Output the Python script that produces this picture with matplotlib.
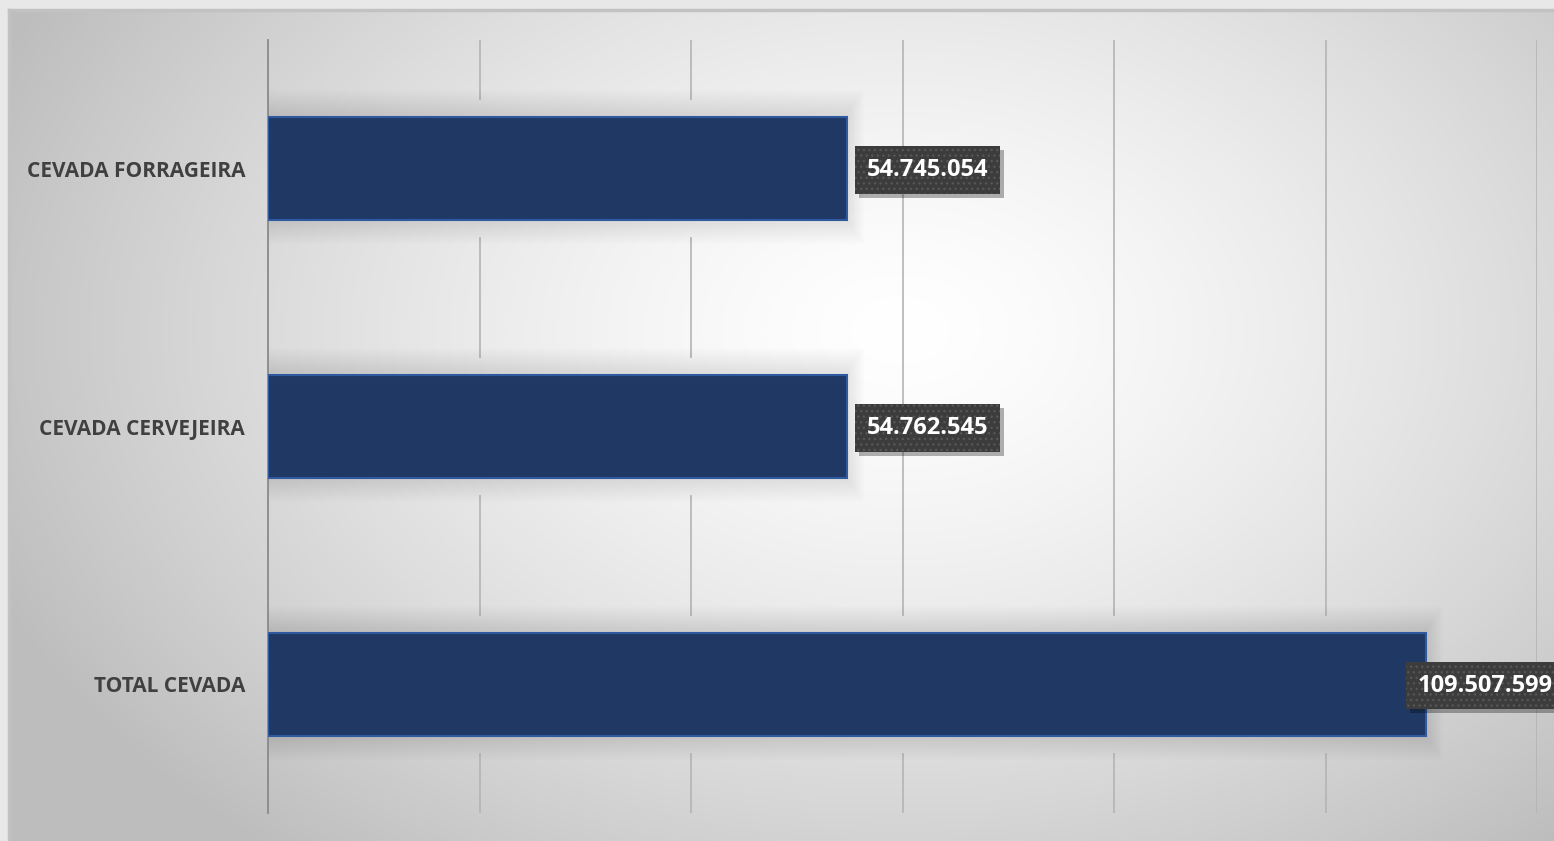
import numpy as np
import matplotlib
matplotlib.use("Agg")
import matplotlib.pyplot as plt
from matplotlib.transforms import IdentityTransform

categorias = ["CEVADA FORRAGEIRA", "CEVADA CERVEJEIRA", "TOTAL CEVADA"]
valores = [54745054, 54762545, 109507599]
rotulos = ["54.745.054", "54.762.545", "109.507.599"]
x_max = 120000000
x_passo = 20000000

W, H = 1554, 841
fig = plt.figure(figsize=(W / 100, H / 100), dpi=100)
fig.patch.set_facecolor("#e8e8e8")

# background with radial gradient
bg = fig.add_axes([9 / W, 0, 1 - 9 / W, (H - 10) / H])
bg.set_axis_off()
yy, xx = np.mgrid[10:H, 9:W]
r = np.sqrt(((xx - 900) / 900.0) ** 2 + ((yy - 330) / 620.0) ** 2)
v = 255 - np.clip(58 * r ** 1.4, 0, 66)
img = np.dstack([v, v, v]) / 255.0
bg.imshow(img, aspect="auto", extent=[0, 1, 0, 1], origin="upper")
bg.plot([0, 0], [0, 1], color="#c2c2c2", lw=2.5, transform=bg.transAxes, clip_on=False)
bg.plot([0, 1], [1, 1], color="#c2c2c2", lw=2.5, transform=bg.transAxes, clip_on=False)
bg.set_xlim(0, 1)
bg.set_ylim(0, 1)

ax = fig.add_axes([268 / W, 28 / H, (1537 - 268) / W, (813 - 40) / H])
ax.patch.set_alpha(0)
y = np.arange(len(categorias))
px = 1.0 / 258  # one pixel in y data units
pxx = x_max / (1537 - 268)
sh = 18  # shadow size in pixels

# gridlines, broken where the bar shadow covers them
for gx in np.arange(x_passo, x_max + 1, x_passo):
    topo = -0.5
    for yi, val in zip(y, valores):
        if val + sh * pxx > gx:
            ax.plot([gx, gx], [topo, yi - 0.2 - sh * px], color="#b4b4b4", lw=1.2, zorder=0)
            topo = yi + 0.2 + sh * px
    ax.plot([gx, gx], [topo, len(categorias) - 0.5], color="#b4b4b4", lw=1.2, zorder=0)

# soft bar shadows
for k in range(1, 13):
    ext = k * 2
    for yi, val in zip(y, valores):
        ax.add_patch(plt.Rectangle((0, yi - 0.2 - (ext + 3) * px), val + ext * pxx * 0.7,
                                   0.4 + (2 * ext + 3) * px, color="black", alpha=0.009,
                                   lw=0, zorder=1))

ax.barh(y, valores, height=0.4, color="#203864", edgecolor="#2f5aa0", linewidth=1.5, zorder=3)

ax.set_xlim(0, x_max)
ax.set_ylim(len(categorias) - 0.5, -0.5)
ax.set_xticks([])
ax.tick_params(axis="both", length=0)
ax.set_yticks(y)
ax.set_yticklabels(categorias, fontsize=15, fontweight="bold", color="#404040",
                   family=["Open Sans", "DejaVu Sans"])
ax.tick_params(axis="y", pad=16.5)
for s in ["top", "right", "bottom"]:
    ax.spines[s].set_visible(False)
ax.spines["left"].set_color("#8a8a8a")
ax.spines["left"].set_linewidth(1.3)

# data labels: dark dotted box with a drop shadow
textos = []
for yi, val, txt in zip(y, valores, rotulos):
    dx = 14 if val + 160 * pxx < x_max else -6
    t = ax.annotate(txt, xy=(val, yi), xycoords="data", xytext=(dx, -1),
                    textcoords="offset points", ha="left", va="center",
                    fontsize=17, fontweight="bold", color="white",
                    family=["Open Sans", "DejaVu Sans"], annotation_clip=False,
                    bbox=dict(boxstyle="square,pad=0.5", fc="none", ec="none", lw=0),
                    zorder=6)
    textos.append(t)

fig.canvas.draw()
for t in textos:
    bb = t.get_bbox_patch().get_window_extent()
    ax.add_patch(plt.Rectangle((bb.x0 + 4, bb.y0 - 4), bb.width, bb.height,
                               transform=IdentityTransform(), fc="black", alpha=0.3,
                               lw=0, zorder=4, clip_on=False))
    ax.add_patch(plt.Rectangle((bb.x0, bb.y0), bb.width, bb.height,
                               transform=IdentityTransform(), fc="#3c3c3c", ec="#565656",
                               hatch="...", lw=0, zorder=5, clip_on=False))

fig.savefig("out.png", dpi=100, facecolor=fig.get_facecolor())
